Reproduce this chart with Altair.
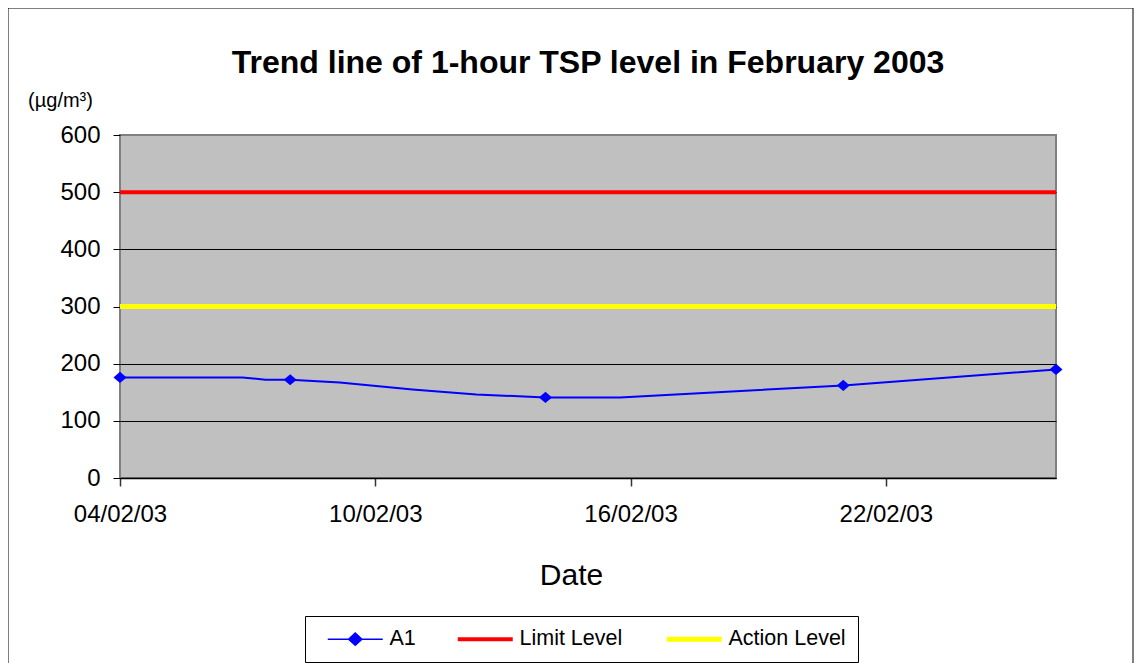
import altair as alt
import pandas as pd

FONT = "Liberation Sans"

# ---- data ----
a1_dates = ["2003-02-04T00:00:00", "2003-02-06T21:00:00", "2003-02-07T10:00:00",
            "2003-02-08T00:00:00", "2003-02-09T04:00:00", "2003-02-10T21:00:00",
            "2003-02-12T09:00:00", "2003-02-14T00:00:00", "2003-02-15T18:00:00",
            "2003-02-21T00:00:00", "2003-02-26T00:00:00"]
a1_values = [176, 176, 172, 172, 167, 155, 146, 141, 141, 162, 190]
a1_marker = [1, 0, 0, 1, 0, 0, 0, 1, 0, 1, 1]

level_dates = ["2003-02-04T00:00:00", "2003-02-26T00:00:00"]
limit_values = [500, 500]
action_values = [300, 300]

series_names = ["A1", "Limit Level", "Action Level"]
series_colors = ["#0000FF", "#FF0000", "#FFFF00"]

x_tick_days = [4, 10, 16, 22]
y_ticks = [0, 100, 200, 300, 400, 500, 600]

title_text = "Trend line of 1-hour TSP level in February 2003"
unit_text = "(µg/m³)"
x_title = "Date"

# ---- tables ----
a1_df = pd.DataFrame({"date": a1_dates, "value": a1_values, "series": "A1", "m": a1_marker})
limit_df = pd.DataFrame({"date": level_dates, "value": limit_values, "series": "Limit Level"})
action_df = pd.DataFrame({"date": level_dates, "value": action_values, "series": "Action Level"})
markers = a1_df[a1_df["m"] == 1]

x_scale = alt.Scale(domain=[alt.DateTime(year=2003, month=2, date=4),
                            alt.DateTime(year=2003, month=2, date=26)], nice=False)
y_scale = alt.Scale(domain=[0, 600], nice=False)

x_enc = alt.X("date:T", scale=x_scale, axis=alt.Axis(
    values=[alt.DateTime(year=2003, month=2, date=d) for d in x_tick_days],
    format="%d/%m/%y", title=x_title, labelFont=FONT, labelFontSize=24,
    labelColor="black", titleFont=FONT, titleFontSize=30, titleFontWeight="normal",
    titleColor="black", titleX=451, titleAlign="center", tickSize=8, tickColor="#333333",
    tickWidth=1.5, domainColor="black", domainWidth=1.5, labelPadding=16,
    titlePadding=34, grid=False, labelFlush=False))
y_enc = alt.Y("value:Q", scale=y_scale, axis=alt.Axis(
    values=y_ticks, title=unit_text, titleAngle=0, titleX=-60, titleY=-35,
    titleAlign="center", titleBaseline="middle", titleFont=FONT, titleFontSize=20,
    titleFontWeight="normal", titleColor="black", labelFont=FONT, labelFontSize=24,
    labelColor="black", labelPadding=13, tickSize=7, tickColor="black",
    domain=False, grid=True,
    gridColor={"condition": {"test": "datum.value === 600", "value": "#808080"}, "value": "black"},
    gridWidth=1))

legend = alt.Legend(
    title=" ", titleOrient="left", titleFontSize=1, titlePadding=11,
    orient="none", legendX=185, legendY=481, direction="horizontal",
    strokeColor="black", fillColor="white", padding=12, labelFont=FONT,
    labelFontSize=21.5, labelColor="black", symbolSize=484,
    symbolType={"expr": "datum.label === 'A1' ? 'M-1,0L4,0M1.5,-0.55L2.1,0L1.5,0.55L0.9,0Z' : 'M-1,0L4,0'"},
    symbolFillColor={"expr": "datum.label === 'A1' ? '#0000FF' : 'transparent'"},
    symbolStrokeWidth={"expr": "datum.label === 'A1' ? 1.5 : (datum.label === 'Limit Level' ? 4 : 5)"},
    labelOffset=40, columnPadding=33)

color_enc = alt.Color("series:N", scale=alt.Scale(domain=series_names, range=series_colors),
                      legend=legend)

border = alt.Chart(pd.DataFrame({"b": [0]})).mark_rect(
    fill=None, stroke="black", strokeWidth=1).encode(
    x=alt.value(-112), x2=alt.value(1013), y=alt.value(-127), y2=alt.value(560))

limit_layer = alt.Chart(limit_df).mark_line(strokeWidth=4).encode(
    x=x_enc, y=y_enc, color=color_enc)
action_layer = alt.Chart(action_df).mark_line(strokeWidth=5).encode(
    x="date:T", y="value:Q", color=color_enc)
a1_layer = alt.Chart(a1_df).mark_line(strokeWidth=2).encode(
    x="date:T", y="value:Q", color=color_enc)

point_layer = alt.Chart(markers).mark_point(
    shape="M-1,0L0,-0.85L1,0L0,0.85Z", filled=True, size=170, color="#0000FF",
    opacity=1).encode(x="date:T", y="value:Q")

chart = alt.layer(border, limit_layer, action_layer, a1_layer, point_layer).properties(
    width=936, height=343,
    title=alt.TitleParams(text=title_text, font=FONT, fontSize=32, fontWeight="bold",
                          color="black", anchor="middle", frame="group", offset=-72),
    autosize=alt.AutoSizeParams(type="none"),
    padding={"left": 112, "top": 127, "right": 78, "bottom": 190},
).configure(background="white").configure_view(
    fill="#C0C0C0", stroke="#808080", strokeWidth=2)

chart.save("out.html", embed_options={"renderer": "svg", "actions": False})
